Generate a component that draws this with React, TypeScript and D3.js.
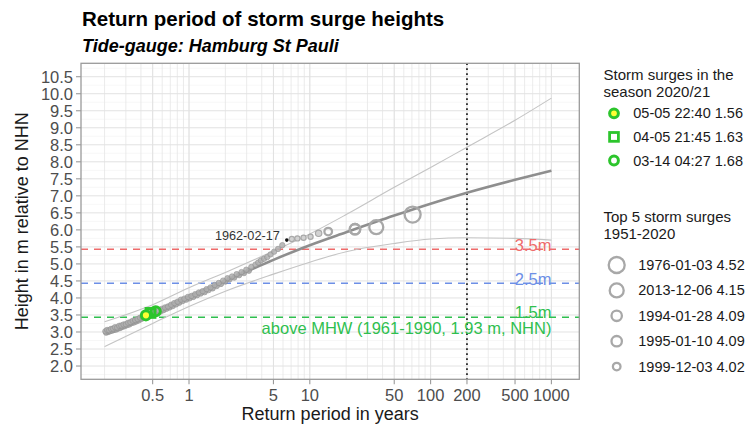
import React from "react";
import * as d3 from "d3";

// ---------- data ----------
const MHW = 1.93; // mean high water 1961-1990, m NHN
const xTickValues = [0.5, 1, 5, 10, 50, 100, 200, 500, 1000];
const xTickLabels = ["0.5", "1", "5", "10", "50", "100", "200", "500", "1000"];
const yTickValues = [2.0, 2.5, 3.0, 3.5, 4.0, 4.5, 5.0, 5.5, 6.0, 6.5, 7.0, 7.5, 8.0, 8.5, 9.0, 9.5, 10.0, 10.5];
const yTickLabels = ["2.0", "2.5", "3.0", "3.5", "4.0", "4.5", "5.0", "5.5", "6.0", "6.5", "7.0", "7.5", "8.0", "8.5", "9.0", "9.5", "10.0", "10.5"];

// fitted return level curve and confidence band (m NHN)
const fitT = [0.2, 0.5, 1, 2, 5, 10, 20, 50, 100, 200, 500, 1000];
const fitH = [3.0, 3.58, 4.05, 4.5, 5.12, 5.55, 5.93, 6.42, 6.77, 7.09, 7.47, 7.74];
const upperH = [3.3, 3.8, 4.3, 4.75, 5.38, 5.88, 6.45, 7.25, 7.83, 8.43, 9.22, 9.87];
const lowerH = [2.57, 3.25, 3.75, 4.2, 4.7, 5.05, 5.36, 5.6, 5.73, 5.77, 5.75, 5.7];

// observed storm surges (return period in years, height m NHN)
const obsT = [0.203, 0.21, 0.218, 0.226, 0.235, 0.244, 0.254, 0.264, 0.275, 0.287, 0.3, 0.313, 0.327, 0.342, 0.358, 0.375, 0.393, 0.412, 0.433, 0.455, 0.479, 0.505, 0.533, 0.563, 0.596, 0.632, 0.67, 0.711, 0.756, 0.805, 0.858, 0.916, 0.979, 1.048, 1.124, 1.207, 1.298, 1.398, 1.508, 1.63, 1.765, 1.915, 2.082, 2.27, 2.48, 2.72, 2.98, 3.28, 3.55, 3.74, 3.94, 4.18, 4.44, 4.73, 5.07, 5.46, 5.92];
const obsH = [3.02, 3.06, 3.05, 3.09, 3.1, 3.14, 3.13, 3.18, 3.19, 3.22, 3.23, 3.27, 3.29, 3.33, 3.35, 3.38, 3.42, 3.44, 3.48, 3.5, 3.55, 3.57, 3.61, 3.63, 3.68, 3.72, 3.75, 3.8, 3.85, 3.89, 3.95, 3.98, 4.03, 4.06, 4.11, 4.16, 4.2, 4.26, 4.31, 4.38, 4.44, 4.51, 4.58, 4.63, 4.7, 4.76, 4.83, 4.91, 4.98, 5.04, 5.1, 5.15, 5.2, 5.28, 5.36, 5.44, 5.55];
const obs2T = [0.206, 0.214, 0.222, 0.231, 0.239, 0.249, 0.259, 0.27, 0.281, 0.293, 0.306, 0.32, 0.334, 0.35, 0.366, 0.384, 0.402, 0.422, 0.444, 0.467, 0.492, 0.519, 0.548, 0.579, 0.614, 0.65, 0.69, 0.733, 0.78, 0.831, 0.886, 0.947, 1.013, 1.085, 1.165, 1.252, 1.347, 1.452, 1.568, 1.696, 1.838, 1.997, 2.17, 2.37, 2.6, 2.85, 3.13];
const obs2H = [2.98, 3.0, 3.02, 3.04, 3.06, 3.07, 3.1, 3.12, 3.15, 3.17, 3.2, 3.22, 3.26, 3.28, 3.31, 3.34, 3.38, 3.41, 3.44, 3.47, 3.5, 3.53, 3.57, 3.6, 3.64, 3.68, 3.72, 3.76, 3.81, 3.86, 3.91, 3.95, 3.99, 4.03, 4.08, 4.13, 4.17, 4.23, 4.28, 4.35, 4.41, 4.48, 4.55, 4.6, 4.67, 4.73, 4.8];
const nearTopT = [11.83, 10.14, 8.875, 7.89, 7.1];
const nearTopH = [5.9, 5.8, 5.77, 5.75, 5.73];
const markT = 6.45;
const markH = 5.7;
const markLabel = "1962-02-17";

// top 5 storm surges 1951-2020 (m above MHW); tied values share a plotting position
const top5Dates = ["1976-01-03", "2013-12-06", "1994-01-28", "1995-01-10", "1999-12-03"];
const top5Values = [4.52, 4.15, 4.09, 4.09, 4.02];
const top5T = [71, 35.5, 23.67, 23.67, 14.2];

// season 2020/21 (m above MHW)
const seasonDates = ["05-05 22:40", "04-05 21:45", "03-14 04:27"];
const seasonValues = [1.56, 1.63, 1.68];
const seasonT = [0.44, 0.48, 0.53];

// thresholds (m above MHW)
const thresholdValues = [3.5, 2.5, 1.5];
const thresholdLabels = ["3.5m", "2.5m", "1.5m"];
const mhwLabel = "above MHW (1961-1990, 1.93 m, NHN)";

// ---------- styling ----------
const W = 753, H = 429;
const P = { left: 81, right: 579.3, top: 63.3, bottom: 379.3 };
const FONT = "'Liberation Sans', Arial, Helvetica, sans-serif";
const thresholdColors = ["#ee6b6b", "#6d8fe6", "#2fbf4f"];
const thresholdLabelShift = [1.7, 1.7, 0.6];
const GREEN = "#2cc52c";
const RING = "#a8a8a8";
const top5Radius = [8, 7, 5.2, 5.2, 3.8];

export default function App() {
  const x = d3.scaleLog().domain([0.1276, 1702]).range([P.left, P.right]);
  const y = d3.scaleLinear().domain([1.61, 10.894]).range([P.bottom, P.top]);

  const minorX: number[] = [];
  for (let k = -1; k <= 3; k++) for (let m = 1; m <= 9; m++) {
    const v = m * Math.pow(10, k);
    if (x(v) > P.left + 1 && x(v) < P.right - 1) minorX.push(v);
  }
  const minorY = yTickValues.map((v) => v + 0.25).filter((v) => y(v) > P.top);
  minorY.push(1.75);

  const line = d3.line<[number, number]>().x((d) => x(d[0])).y((d) => y(d[1])).curve(d3.curveMonotoneX);
  const fitPath = line(fitT.map((t, i) => [t, fitH[i]]))!;
  const upPath = line(fitT.map((t, i) => [t, upperH[i]]))!;
  const loPath = line(fitT.map((t, i) => [t, lowerH[i]]))!;

  const legendTitle = { fontFamily: FONT, fontSize: 15, fill: "#1a1a1a" };
  const legendText = { fontFamily: FONT, fontSize: 14.5, fill: "#1a1a1a" };

  return (
    <svg width={W} height={H} style={{ position: "absolute", left: 0, top: 0, background: "#fff" }}>
      <rect x={0} y={0} width={W} height={H} fill="#fff" />
      {/* grid */}
      {minorY.map((v, i) => (
        <line key={"my" + i} x1={P.left} x2={P.right} y1={y(v)} y2={y(v)} stroke="#f1f1f1" strokeWidth={0.6} />
      ))}
      {minorX.map((v, i) => (
        <line key={"mx" + i} x1={x(v)} x2={x(v)} y1={P.top} y2={P.bottom} stroke="#e6e6e6" strokeWidth={0.8} />
      ))}
      {yTickValues.map((v, i) => (
        <line key={"gy" + i} x1={P.left} x2={P.right} y1={y(v)} y2={y(v)} stroke="#e2e2e2" strokeWidth={1} />
      ))}
      {xTickValues.map((v, i) => (
        <line key={"gx" + i} x1={x(v)} x2={x(v)} y1={P.top} y2={P.bottom} stroke="#e2e2e2" strokeWidth={1} />
      ))}

      {/* threshold lines */}
      {thresholdValues.map((v, i) => (
        <line key={"th" + i} x1={P.left} x2={P.right} y1={y(v + MHW)} y2={y(v + MHW)}
          stroke={thresholdColors[i]} strokeWidth={1.5} strokeDasharray="7 6" />
      ))}
      {/* 200 years */}
      <line x1={x(200)} x2={x(200)} y1={P.top} y2={P.bottom} stroke="#111" strokeWidth={1.6} strokeDasharray="1.6 3.4" />

      {/* confidence band and fit */}
      <path d={upPath} fill="none" stroke="#c4c4c4" strokeWidth={1.1} />
      <path d={loPath} fill="none" stroke="#c4c4c4" strokeWidth={1.1} />
      <path d={fitPath} fill="none" stroke="#8e8e8e" strokeWidth={2.6} />

      {/* observations */}
      {obs2T.map((t, i) => (
        <circle key={"p" + i} cx={x(t)} cy={y(obs2H[i])} r={2.7} fill="#a6a6a6" stroke="#8f8f8f" strokeWidth={0.8} opacity={0.85} />
      ))}
      {obsT.map((t, i) => (
        <circle key={"o" + i} cx={x(t)} cy={y(obsH[i])} r={2.7} fill="#b0b0b0" stroke="#939393" strokeWidth={0.8} opacity={0.85} />
      ))}
      {nearTopT.map((t, i) => (
        <circle key={"n" + i} cx={x(t)} cy={y(nearTopH[i])} r={i === 0 ? 3.2 : 2.6} fill="#d2d2d2" stroke="#a9a9a9" strokeWidth={1.2} />
      ))}
      {top5T.map((t, i) => (
        <circle key={"t5" + i} cx={x(t)} cy={y(top5Values[i] + MHW)} r={top5Radius[i]} fill="none" stroke={RING} strokeWidth={2.3} />
      ))}
      <circle cx={x(markT)} cy={y(markH)} r={1.8} fill="#111" />
      <text x={x(markT) - 7} y={y(markH)} textAnchor="end" fontFamily={FONT} fontSize={12.7} fill="#333">{markLabel}</text>

      {/* season 2020/21 */}
      <circle cx={x(seasonT[2])} cy={y(seasonValues[2] + MHW)} r={4.6} fill="none" stroke={GREEN} strokeWidth={3} />
      <rect x={x(seasonT[1]) - 4.4} y={y(seasonValues[1] + MHW) - 4.4} width={8.8} height={8.8} fill="none" stroke={GREEN} strokeWidth={3} />
      <circle cx={x(seasonT[0])} cy={y(seasonValues[0] + MHW)} r={4.6} fill="#ffff33" stroke={GREEN} strokeWidth={3} />

      {/* threshold labels */}
      {thresholdValues.map((v, i) => (
        <text key={"tl" + i} x={x(1000)} y={y(v + MHW) + thresholdLabelShift[i]} textAnchor="end" fontFamily={FONT} fontSize={16.5} fill={thresholdColors[i]}>
          {thresholdLabels[i]}
        </text>
      ))}
      <text x={x(1000)} y={y(MHW + 1.5) + 16.5} textAnchor="end" fontFamily={FONT} fontSize={16.5} fill={thresholdColors[2]}>{mhwLabel}</text>

      {/* panel border */}
      <rect x={P.left} y={P.top} width={P.right - P.left} height={P.bottom - P.top} fill="none" stroke="#9a9a9a" strokeWidth={1.3} />

      {/* axes */}
      {yTickValues.map((v, i) => (
        <g key={"yt" + i}>
          <line x1={P.left - 5} x2={P.left} y1={y(v)} y2={y(v)} stroke="#9a9a9a" strokeWidth={1.1} />
          <text x={P.left - 8} y={y(v) + 6} textAnchor="end" fontFamily={FONT} fontSize={16.5} fill="#4d4d4d">{yTickLabels[i]}</text>
        </g>
      ))}
      {xTickValues.map((v, i) => (
        <g key={"xt" + i}>
          <line x1={x(v)} x2={x(v)} y1={P.bottom} y2={P.bottom + 5} stroke="#9a9a9a" strokeWidth={1.1} />
          <text x={x(v)} y={P.bottom + 21.5} textAnchor="middle" fontFamily={FONT} fontSize={16.5} fill="#4d4d4d">{xTickLabels[i]}</text>
        </g>
      ))}
      <text x={(P.left + P.right) / 2} y={419.5} textAnchor="middle" fontFamily={FONT} fontSize={18} fill="#1a1a1a">Return period in years</text>
      <text transform={`translate(28,${(P.top + P.bottom) / 2}) rotate(-90)`} textAnchor="middle" fontFamily={FONT} fontSize={18} fill="#1a1a1a">Height in m relative to NHN</text>

      {/* titles */}
      <text x={82} y={26} fontFamily={FONT} fontSize={20.5} fontWeight="bold" fill="#000">Return period of storm surge heights</text>
      <text x={82} y={51.5} fontFamily={FONT} fontSize={18} fontWeight="bold" fontStyle="italic" fill="#000">Tide-gauge: Hamburg St Pauli</text>

      {/* legend 1 */}
      <text x={603.5} y={80} {...legendTitle}>Storm surges in the</text>
      <text x={603.5} y={96.5} {...legendTitle}>season 2020/21</text>
      {seasonDates.map((d, i) => {
        const cy = 113.3 + i * 23.6;
        return (
          <g key={"l1" + i}>
            {i === 0 && <circle cx={614} cy={cy} r={4.4} fill="#ffff33" stroke={GREEN} strokeWidth={3} />}
            {i === 1 && <rect x={609.6} y={cy - 4.4} width={8.8} height={8.8} fill="none" stroke={GREEN} strokeWidth={2.8} />}
            {i === 2 && <circle cx={614} cy={cy} r={4.4} fill="none" stroke={GREEN} strokeWidth={3} />}
            <text x={633.3} y={cy + 5} {...legendText}>{`${d} ${seasonValues[i].toFixed(2)}`}</text>
          </g>
        );
      })}

      {/* legend 2 */}
      <text x={603.5} y={221.5} {...legendTitle}>Top 5 storm surges</text>
      <text x={603.5} y={239} {...legendTitle}>1951-2020</text>
      {top5Dates.map((d, i) => {
        const cy = 265 + i * 25.4;
        return (
          <g key={"l2" + i}>
            <circle cx={616.7} cy={cy} r={top5Radius[i]} fill="none" stroke={RING} strokeWidth={2.3} />
            <text x={638.3} y={cy + 5} {...legendText}>{`${d} ${top5Values[i].toFixed(2)}`}</text>
          </g>
        );
      })}
    </svg>
  );
}
